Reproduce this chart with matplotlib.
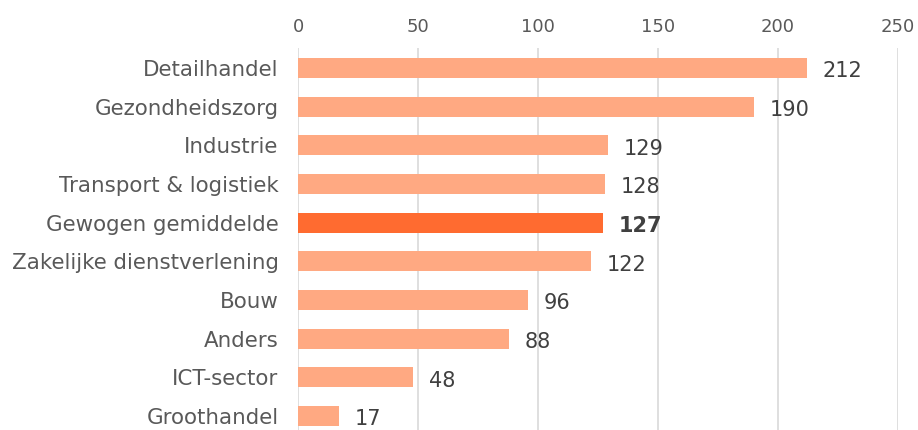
import matplotlib
matplotlib.use("Agg")
import matplotlib.pyplot as plt

plt.rcParams["font.family"] = ["DejaVu Sans"]

categories = ["Detailhandel", "Gezondheidszorg", "Industrie", "Transport & logistiek",
              "Gewogen gemiddelde", "Zakelijke dienstverlening", "Bouw", "Anders",
              "ICT-sector", "Groothandel"]
values = [212, 190, 129, 128, 127, 122, 96, 88, 48, 17]
highlight = "Gewogen gemiddelde"
xticks = [0, 50, 100, 150, 200, 250]

light = "#FFA982"
dark = "#FF6B30"

fig = plt.figure(figsize=(9.18, 4.30), dpi=100)
ax = fig.add_axes([298/918, 0.0, 600/918, 1 - 48/430])

ypos = list(range(len(categories)))
colors = [dark if c == highlight else light for c in categories]
ax.barh(ypos, values, height=0.52, color=colors, zorder=3)

for y, v, c in zip(ypos, values, categories):
    ax.text(v + 6.5, y + 0.08, str(v), va="center", ha="left", fontsize=15,
            color="#404040", fontweight="bold" if c == highlight else "normal")

ax.set_yticks(ypos)
ax.set_yticklabels(categories, fontsize=15.4, color="#595959")
ax.set_ylim(len(categories) - 1 + 0.36, -0.52)
ax.set_xlim(0, 250)
ax.set_xticks(xticks)
ax.xaxis.tick_top()
ax.tick_params(axis="x", length=0, labelsize=13, labelcolor="#595959", pad=9)
ax.tick_params(axis="y", length=0, pad=14)
ax.grid(axis="x", color="#D9D9D9", linewidth=1.2, zorder=0)
for s in ax.spines.values():
    s.set_visible(False)

fig.savefig("out.png", dpi=100)
